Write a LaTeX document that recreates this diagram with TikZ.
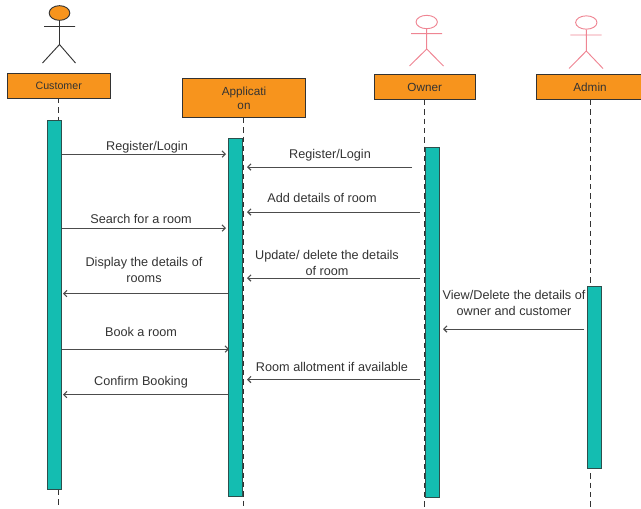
\documentclass[tikz,border=0pt]{standalone}
\usepackage{fontspec}
\setmainfont{Liberation Sans}
\usetikzlibrary{arrows.meta,shapes.geometric}
\definecolor{boxorange}{HTML}{F7941D}
\definecolor{barteal}{HTML}{14BDB1}
\definecolor{actorpink}{HTML}{EF8593}
\definecolor{inkgray}{HTML}{333333}
\tikzset{
	headbox/.style={rectangle, draw=inkgray, line width=0.8pt, fill=boxorange, inner sep=0pt, align=center, text=inkgray},
	activebar/.style={rectangle, draw=inkgray!80!barteal, line width=0.7pt, fill=barteal, inner sep=0pt, minimum width=10.4pt},
	lifeline/.style={dashed, dash pattern=on 4pt off 3pt, line width=0.7pt, inkgray},
	msg/.style={->, >={Straight Barb[length=2.4pt,width=4.8pt,line width=0.8pt]}, line width=0.5pt, black!70},
	msgtext/.style={inner sep=0pt, font=\fontsize{9.5}{12}\selectfont, align=center, text=inkgray},
}
\begin{document}
\begin{tikzpicture}[x=0.75pt, y=-0.75pt]
		\useasboundingbox (0,0) rectangle (641,508);
		
		% header boxes
		\node[headbox, minimum width=77pt, minimum height=18.2pt, font=\fontsize{8}{9}\selectfont] (customer) at (58.7,86) {\raisebox{-0.9pt}{Customer}};
		\node[headbox, minimum width=92pt, minimum height=29.5pt, font=\fontsize{8.8}{10.6}\selectfont] (application) at (244,98) {Applicati\\on};
		\node[headbox, minimum width=75.5pt, minimum height=19pt, font=\fontsize{8.8}{10}\selectfont] (owner) at (424.7,87) {Owner};
		\node[headbox, minimum width=80pt, minimum height=19pt, font=\fontsize{8.8}{10}\selectfont] (adminbox) at (590,87) {Admin};
		
		% lifeline ends
		\coordinate (customerend) at (58.5,508);
		\coordinate (applicationend) at (243.7,508);
		\coordinate (ownerend) at (424,508);
		\coordinate (adminend) at (590,508);
		\coordinate (customertop) at (58.5,98);
		\coordinate (applicationtop) at (243.7,118);
		\coordinate (ownertop) at (424,100);
		\coordinate (admintop) at (590,100);
		
		\path[lifeline] (customertop) edge (customerend);
		\path[lifeline] (applicationtop) edge (applicationend);
		\path[lifeline] (ownertop) edge (ownerend);
		\path[lifeline] (admintop) edge (adminend);
		
		% activation bars
		\node[activebar, minimum height=276.5pt] (barcustomer) at (54.8,304.7) {};
		\node[activebar, minimum height=268.5pt] (barapplication) at (235.8,317) {};
		\node[activebar, minimum height=263pt] (barowner) at (432.5,322.5) {};
		\node[activebar, minimum height=137pt] (baradmin) at (594.5,377.5) {};
		
		% actors
		\node[ellipse, draw=inkgray, fill=boxorange, line width=0.7pt, minimum width=15.5pt, minimum height=11pt, inner sep=0pt] (headcustomer) at (59.5,13) {};
		\coordinate (hipcustomer) at (59.5,44.5);
		\coordinate (armcustomerl) at (44,26.5);
		\coordinate (armcustomerr) at (75,26.5);
		\coordinate (footcustomerl) at (42.5,63);
		\coordinate (footcustomerr) at (75.5,63);
		\draw[inkgray, line width=0.7pt] (headcustomer) -- (hipcustomer) -- (footcustomerl) (hipcustomer) -- (footcustomerr) (armcustomerl) -- (armcustomerr);
		
		\node[ellipse, draw=actorpink, line width=0.7pt, minimum width=16pt, minimum height=10pt, inner sep=0pt] (headowner) at (426.7,22) {};
		\coordinate (hipowner) at (426.7,49);
		\coordinate (armownerl) at (411,33.7);
		\coordinate (armownerr) at (442,33.7);
		\coordinate (footownerl) at (409.5,66);
		\coordinate (footownerr) at (443.5,66);
		\draw[actorpink, line width=0.7pt] (headowner) -- (hipowner) -- (footownerl) (hipowner) -- (footownerr) (armownerl) -- (armownerr);
		
		\node[ellipse, draw=actorpink, line width=0.7pt, minimum width=16pt, minimum height=10pt, inner sep=0pt] (headadmin) at (586.3,22.5) {};
		\coordinate (hipadmin) at (586.3,51);
		\coordinate (armadminl) at (570.3,35);
		\coordinate (armadminr) at (601.5,35);
		\coordinate (footadminl) at (569,68.5);
		\coordinate (footadminr) at (603,68.5);
		\draw[actorpink, line width=0.7pt] (headadmin) -- (hipadmin) -- (footadminl) (hipadmin) -- (footadminr) (armadminl) -- (armadminr);
		
		% message ends
		\coordinate (m1a) at (62,154);
		\coordinate (m1b) at (226,154);
		\coordinate (m2a) at (412,167);
		\coordinate (m2b) at (247,167);
		\coordinate (m3a) at (420,212);
		\coordinate (m3b) at (247,212);
		\coordinate (m4a) at (62,228);
		\coordinate (m4b) at (226,228);
		\coordinate (m5a) at (420,278);
		\coordinate (m5b) at (247,278);
		\coordinate (m6a) at (228,293.5);
		\coordinate (m6b) at (63,293.5);
		\coordinate (m7a) at (584,329);
		\coordinate (m7b) at (443,329);
		\coordinate (m8a) at (62,349);
		\coordinate (m8b) at (229,349);
		\coordinate (m9a) at (420,379.5);
		\coordinate (m9b) at (247,379.5);
		\coordinate (m10a) at (228,394.5);
		\coordinate (m10b) at (63,394.5);
		
		\path[msg] (m1a) edge (m1b);
		\path[msg] (m2a) edge (m2b);
		\path[msg] (m3a) edge (m3b);
		\path[msg] (m4a) edge (m4b);
		\path[msg] (m5a) edge (m5b);
		\path[msg] (m6a) edge (m6b);
		\path[msg] (m7a) edge (m7b);
		\path[msg] (m8a) edge (m8b);
		\path[msg] (m9a) edge (m9b);
		\path[msg] (m10a) edge (m10b);
		
		% message labels
		\node[msgtext] (t1) at (147,147.5) {Register/Login};
		\node[msgtext] (t2) at (330,155.5) {Register/Login};
		\node[msgtext] (t3) at (322,198) {Add details of room};
		\node[msgtext] (t4) at (141,218.5) {Search for a room};
		\node[msgtext] (t5) at (327,262.5) {Update/ delete the details\\of room};
		\node[msgtext] (t6) at (144,270) {Display the details of\\rooms};
		\node[msgtext] (t7) at (514,303) {View/Delete the details of\\owner and customer};
		\node[msgtext] (t8) at (141,331.5) {Book a room};
		\node[msgtext] (t9) at (332,367) {Room allotment if available};
		\node[msgtext] (t10) at (141,382.5) {Confirm Booking};
		\end{tikzpicture}
\end{document}
